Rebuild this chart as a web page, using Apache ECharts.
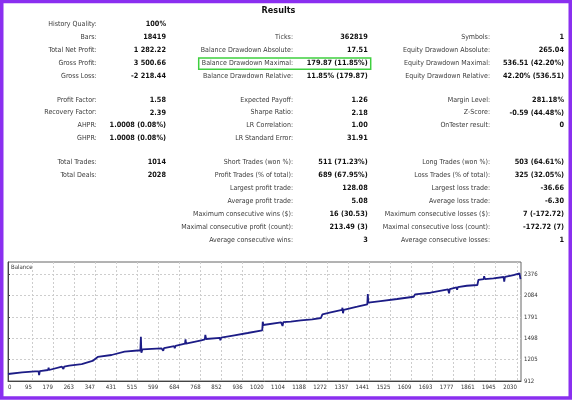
<!DOCTYPE html>
<html>
<head>
<meta charset="utf-8">
<script src="https://cdn.jsdelivr.net/npm/echarts@6/dist/echarts.min.js"></script>
<style>
  html, body { margin: 0; padding: 0; background: #fff; }
  #chart { width: 572px; height: 400px; }
</style>
</head>
<body>
<div id="chart"></div>
<script>
// 统计表 (行号, label, value)，行号 0..15
let col1Rows = [
  [0, 'History Quality:', '100%'],
  [1, 'Bars:', '18419'],
  [2, 'Total Net Profit:', '1 282.22'],
  [3, 'Gross Profit:', '3 500.66'],
  [4, 'Gross Loss:', '-2 218.44'],
  [5, 'Profit Factor:', '1.58'],
  [6, 'Recovery Factor:', '2.39'],
  [7, 'AHPR:', '1.0008 (0.08%)'],
  [8, 'GHPR:', '1.0008 (0.08%)'],
  [9, 'Total Trades:', '1014'],
  [10, 'Total Deals:', '2028']
]
let col2Rows = [
  [1, 'Ticks:', '362819'],
  [2, 'Balance Drawdown Absolute:', '17.51'],
  [3, 'Balance Drawdown Maximal:', '179.87 (11.85%)'],
  [4, 'Balance Drawdown Relative:', '11.85% (179.87)'],
  [5, 'Expected Payoff:', '1.26'],
  [6, 'Sharpe Ratio:', '2.18'],
  [7, 'LR Correlation:', '1.00'],
  [8, 'LR Standard Error:', '31.91'],
  [9, 'Short Trades (won %):', '511 (71.23%)'],
  [10, 'Profit Trades (% of total):', '689 (67.95%)'],
  [11, 'Largest profit trade:', '128.08'],
  [12, 'Average profit trade:', '5.08'],
  [13, 'Maximum consecutive wins ($):', '16 (30.53)'],
  [14, 'Maximal consecutive profit (count):', '213.49 (3)'],
  [15, 'Average consecutive wins:', '3']
]
let col3Rows = [
  [1, 'Symbols:', '1'],
  [2, 'Equity Drawdown Absolute:', '265.04'],
  [3, 'Equity Drawdown Maximal:', '536.51 (42.20%)'],
  [4, 'Equity Drawdown Relative:', '42.20% (536.51)'],
  [5, 'Margin Level:', '281.18%'],
  [6, 'Z-Score:', '-0.59 (44.48%)'],
  [7, 'OnTester result:', '0'],
  [9, 'Long Trades (won %):', '503 (64.61%)'],
  [10, 'Loss Trades (% of total):', '325 (32.05%)'],
  [11, 'Largest loss trade:', '-36.66'],
  [12, 'Average loss trade:', '-6.30'],
  [13, 'Maximum consecutive losses ($):', '7 (-172.72)'],
  [14, 'Maximal consecutive loss (count):', '-172.72 (7)'],
  [15, 'Average consecutive losses:', '1']
]

// 余额曲线 (成交序号, 余额)
let balanceDeals = [
  0, 56, 108, 122, 124, 127, 160, 162, 164, 215, 221, 224, 244, 246, 250, 294,
  337, 342, 358, 360, 362, 413, 465, 528, 530, 532, 536, 612, 619, 622, 663, 665,
  668, 706, 708, 710, 771, 785, 787, 790, 845, 847, 850, 903, 956, 1014, 1016, 1018,
  1089, 1095, 1098, 1128, 1168, 1213, 1215, 1218, 1248, 1254, 1287, 1332, 1334, 1336, 1339, 1393,
  1433, 1435, 1437, 1486, 1552, 1618, 1624, 1685, 1755, 1757, 1759, 1762, 1789, 1791, 1794, 1830,
  1872, 1874, 1876, 1897, 1899, 1902, 1936, 1977, 1979, 1982, 2016, 2040, 2044
]
let balanceValues = [
  1008, 1031, 1045, 1045, 994, 1049, 1063, 1095, 1063, 1108, 1077, 1110, 1122, 1095, 1125, 1145,
  1187, 1214, 1242, 1269, 1242, 1269, 1314, 1334, 1520, 1301, 1345, 1361, 1328, 1363, 1390, 1361,
  1393, 1424, 1485, 1426, 1471, 1485, 1544, 1489, 1505, 1471, 1507, 1540, 1571, 1608, 1726, 1681,
  1718, 1667, 1720, 1726, 1745, 1759, 1736, 1760, 1777, 1828, 1855, 1887, 1918, 1842, 1890, 1932,
  1965, 2107, 1987, 2010, 2038, 2069, 2102, 2124, 2171, 2193, 2116, 2172, 2198, 2165, 2200, 2220,
  2230, 2207, 2299, 2312, 2350, 2312, 2322, 2340, 2275, 2342, 2367, 2391, 2312
]

// 坐标轴刻度
let xTickLabels = [0, 95, 179, 263, 347, 431, 515, 599, 684, 768, 852, 936, 1020, 1104,
  1188, 1272, 1357, 1441, 1525, 1609, 1693, 1777, 1861, 1945, 2030]
let yTickLabels = [912, 1205, 1498, 1791, 2084, 2376]

let FONT = '"DejaVu Sans Condensed", "DejaVu Sans", sans-serif'

let rowY = function (r) {
  if (r < 5) return 24.3 + 12.95 * r
  if (r < 9) return 99.7 + 12.95 * (r - 5)
  return 162.3 + 12.95 * (r - 9)
}

let tableTexts = function (rows, labelX, valueX) {
  let els = []
  rows.forEach(row => {
    let y = rowY(row[0])
    els.push({
      type: 'text', silent: true,
      style: { text: row[1], x: labelX, y: y, align: 'right', verticalAlign: 'middle',
        fill: '#3a3a3a', font: '7px ' + FONT }
    })
    els.push({
      type: 'text', silent: true,
      style: { text: row[2], x: valueX, y: y, align: 'right', verticalAlign: 'middle',
        fill: '#111', font: 'bold 7.3px ' + FONT }
    })
  })
  return els
}

let graphics = [
  { type: 'rect', silent: true, shape: { x: 1.75, y: 1.5, width: 568.5, height: 396.5 },
    style: { fill: 'none', stroke: '#8a2ff0', lineWidth: 3.5 } },
  { type: 'text', silent: true,
    style: { text: 'Results', x: 278.5, y: 10.7, align: 'center', verticalAlign: 'middle',
      fill: '#111', font: 'bold 9px ' + FONT } },
  { type: 'rect', silent: true, shape: { x: 198.7, y: 58, width: 172, height: 11.3 },
    style: { fill: 'none', stroke: '#3fcf3f', lineWidth: 1.5 } },
  { type: 'text', silent: true,
    style: { text: 'Balance', x: 11, y: 267.7, verticalAlign: 'middle',
      fill: '#333', font: '6px ' + FONT } }
].concat(tableTexts(col1Rows, 96.7, 166), tableTexts(col2Rows, 293, 367.7), tableTexts(col3Rows, 490, 564))

let plainNum = function (v) {
  return String(Math.round(v))
}

let chartOption = {
  animation: false,
  backgroundColor: '#fff',
  grid: { left: 8, top: 262, right: 51, bottom: 19, show: true, borderColor: '#666', borderWidth: 1 },
  xAxis: {
    type: 'value', min: 0, max: 2046,
    axisLine: { show: true, lineStyle: { color: '#444', width: 1 } },
    axisTick: { show: false, customValues: xTickLabels },
    axisLabel: {
      customValues: xTickLabels, formatter: plainNum, align: 'right', alignMinLabel: 'left', margin: 3,
      fontSize: 6, fontFamily: FONT, color: '#333'
    },
    splitLine: { show: true, lineStyle: { color: '#cdcdcd', type: [2, 2], width: 1 } }
  },
  yAxis: {
    type: 'value', position: 'right', min: 912, max: 2546,
    axisLine: { show: true, lineStyle: { color: '#444', width: 1 } },
    axisTick: { show: true, length: 2, customValues: yTickLabels, lineStyle: { color: '#444' } },
    axisLabel: { customValues: yTickLabels, formatter: plainNum, margin: 3, fontSize: 6, fontFamily: FONT, color: '#333' },
    splitLine: { show: true, lineStyle: { color: '#cdcdcd', type: [2, 2], width: 1 } }
  },
  series: [{
    type: 'line',
    name: 'Balance',
    showSymbol: false,
    data: balanceDeals.map((d, i) => [d, balanceValues[i]]),
    lineStyle: { color: '#1c1c86', width: 1.8 },
    itemStyle: { color: '#1c1c86' }
  }],
  graphic: graphics
}

let el = document.querySelector('#chart')
let chartInstance = echarts.init(el)
chartInstance.setOption(chartOption)
</script>
</body>
</html>
